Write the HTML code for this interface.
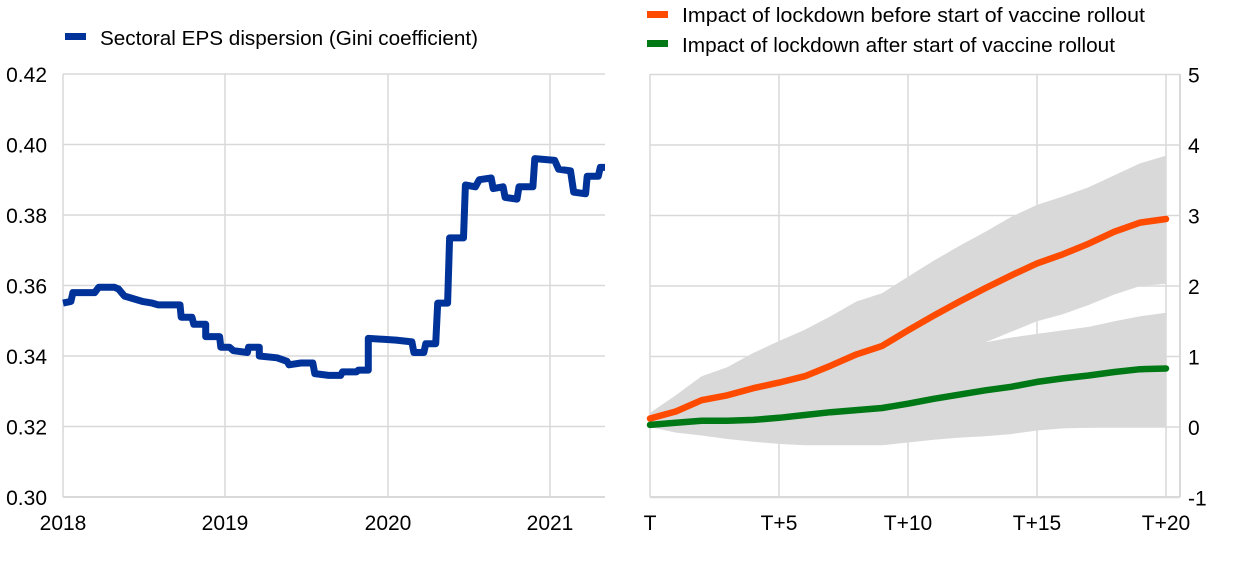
<!DOCTYPE html>
<html><head><meta charset="utf-8"><style>
body{margin:0;background:#fff;}
svg{display:block;font-family:"Liberation Sans",sans-serif;}
</style></head><body>
<svg id="s" width="1240" height="564" viewBox="0 0 1240 564" xmlns="http://www.w3.org/2000/svg">
<rect width="1240" height="564" fill="#fff"/>
<g id="grid" stroke="#d9d9d9" stroke-width="1.5"></g>
<polygon id="band" fill="#d9d9d9"/>
<g id="axes"></g>
<path id="eps" fill="none" stroke="#003399" stroke-width="7" stroke-linejoin="round"/>
<polyline id="org" fill="none" stroke="#ff4b00" stroke-width="6.5" stroke-linejoin="round" stroke-linecap="round"/>
<polyline id="grn" fill="none" stroke="#007816" stroke-width="6.5" stroke-linejoin="round" stroke-linecap="round"/>
<g font-size="21" fill="#000" id="labels"></g>
<rect x="65" y="33" width="21" height="7" fill="#003399"/>
<text x="100" y="45" font-size="20.5" textLength="378" lengthAdjust="spacingAndGlyphs">Sectoral EPS dispersion (Gini coefficient)</text>
<rect x="647" y="11" width="21" height="7" fill="#ff4b00"/>
<text x="682" y="22" font-size="20.5" textLength="463" lengthAdjust="spacingAndGlyphs">Impact of lockdown before start of vaccine rollout</text>
<rect x="647" y="40" width="21" height="7" fill="#007816"/>
<text x="682" y="52" font-size="20.5" textLength="433" lengthAdjust="spacingAndGlyphs">Impact of lockdown after start of vaccine rollout</text>
</svg>
<script>
var NS="http://www.w3.org/2000/svg";
function el(p,t,a,txt){var e=document.createElementNS(NS,t);for(var k in a)e.setAttribute(k,a[k]);if(txt!==undefined)e.textContent=txt;document.getElementById(p).appendChild(e);return e;}
var L0=63,L1=605,T0=74,B0=497;
for(var i=0;i<=6;i++){var y=T0+i*(B0-T0)/6;el("grid","line",{x1:L0,x2:L1,y1:y,y2:y});
 el("labels","text",{x:47,y:y+8,"text-anchor":"end"},(0.42-i*0.02).toFixed(2));}
var yrs=[63,225,388,550];
for(var i=0;i<4;i++){el("grid","line",{x1:yrs[i],x2:yrs[i],y1:T0,y2:B0});el("labels","text",{x:yrs[i],y:530,"text-anchor":"middle"},2018+i);}
el("axes","line",{x1:L0,x2:L1,y1:B0,y2:B0,stroke:"#d9d9d9","stroke-width":2});
var d=[[160,.355],[180,.3555],[185,.358],[240,.358],[250,.3595],[290,.3595],[300,.359],[315,.357],[345,.356],[360,.3555],[385,.355],[400,.3545],[455,.3545],[458,.351],[485,.351],[490,.349],[520,.349],[520,.3455],[555,.3455],[558,.3425],[580,.3425],[590,.3415],[625,.341],[628,.3425],[655,.3425],[655,.340],[700,.3395],[725,.3385],[730,.3375],[760,.338],[790,.338],[795,.335],[830,.3345],[860,.3345],[865,.3355],[900,.3355],[905,.336],[930,.336],[930,.345],[1000,.3445],[1040,.344],[1045,.341],[1070,.341],[1075,.3435],[1100,.3435],[1105,.355],[1130,.355],[1135,.3735],[1170,.3735],[1175,.3885],[1200,.388],[1210,.390],[1240,.3905],[1245,.3875],[1270,.388],[1275,.385],[1305,.3845],[1310,.388],[1345,.388],[1350,.396],[1400,.3955],[1410,.393],[1440,.3925],[1448,.3865],[1478,.386],[1482,.391],[1510,.391],[1515,.3935],[1527,.3935]];
var p="";d.forEach(function(q,i){var x=63+(q[0]-160)*0.3965,y=B0-(q[1]-0.30)/0.12*(B0-T0);p+=(i?"L":"M")+x.toFixed(1)+" "+y.toFixed(1);});
document.getElementById("eps").setAttribute("d",p);
var R0=650,R1=1166,U=(R1-R0)/20;
function X(t){return R0+t*U;}function Y(v){return 427-v*70.5;}
for(var v=-1;v<=5;v++){el("grid","line",{x1:R0,x2:1180,y1:Y(v),y2:Y(v)});el("labels","text",{x:1188,y:Y(v)+8},v);}
var tl=["T","T+5","T+10","T+15","T+20"];
for(var i=0;i<5;i++){el("grid","line",{x1:X(i*5),x2:X(i*5),y1:T0,y2:B0});el("labels","text",{x:X(i*5),y:530,"text-anchor":"middle"},tl[i]);}
el("axes","line",{x1:1180,x2:1180,y1:T0,y2:B0,stroke:"#d9d9d9","stroke-width":2});
el("axes","line",{x1:R0,x2:1180,y1:B0,y2:B0,stroke:"#d9d9d9","stroke-width":2});
var o=[.12,.22,.38,.45,.55,.63,.72,.87,1.03,1.15,1.37,1.58,1.78,1.97,2.15,2.32,2.45,2.6,2.77,2.9,2.95];
var g=[.03,.06,.09,.09,.1,.13,.17,.21,.24,.27,.33,.4,.46,.52,.57,.64,.69,.73,.78,.82,.83];
var ou=[.2,.45,.72,.85,1.05,1.22,1.38,1.57,1.78,1.9,2.13,2.36,2.57,2.77,2.98,3.15,3.27,3.4,3.57,3.74,3.85];
var ol={13:1.2,14:1.35,15:1.5,16:1.6,17:1.73,18:1.88,19:2.0,20:2.03};
var gu={13:1.2,14:1.27,15:1.32,16:1.37,17:1.42,18:1.5,19:1.57,20:1.62};
var gl=[0,-.08,-.12,-.17,-.21,-.24,-.26,-.26,-.26,-.26,-.22,-.18,-.15,-.13,-.1,-.05,-.02,-.01,0,0,0];
var pts=[];
for(var t=0;t<=20;t++)pts.push([X(t),Y(ou[t])]);
for(var t=20;t>=13;t--)pts.push([X(t),Y(ol[t])]);
for(var t=13;t<=20;t++)pts.push([X(t),Y(gu[t])]);
for(var t=20;t>=0;t--)pts.push([X(t),Y(gl[t])]);
document.getElementById("band").setAttribute("points",pts.map(function(a){return a[0].toFixed(1)+","+a[1].toFixed(1)}).join(" "));
document.getElementById("org").setAttribute("points",o.map(function(v,t){return X(t).toFixed(1)+","+Y(v).toFixed(1)}).join(" "));
document.getElementById("grn").setAttribute("points",g.map(function(v,t){return X(t).toFixed(1)+","+Y(v).toFixed(1)}).join(" "));
</script>
</body></html>
